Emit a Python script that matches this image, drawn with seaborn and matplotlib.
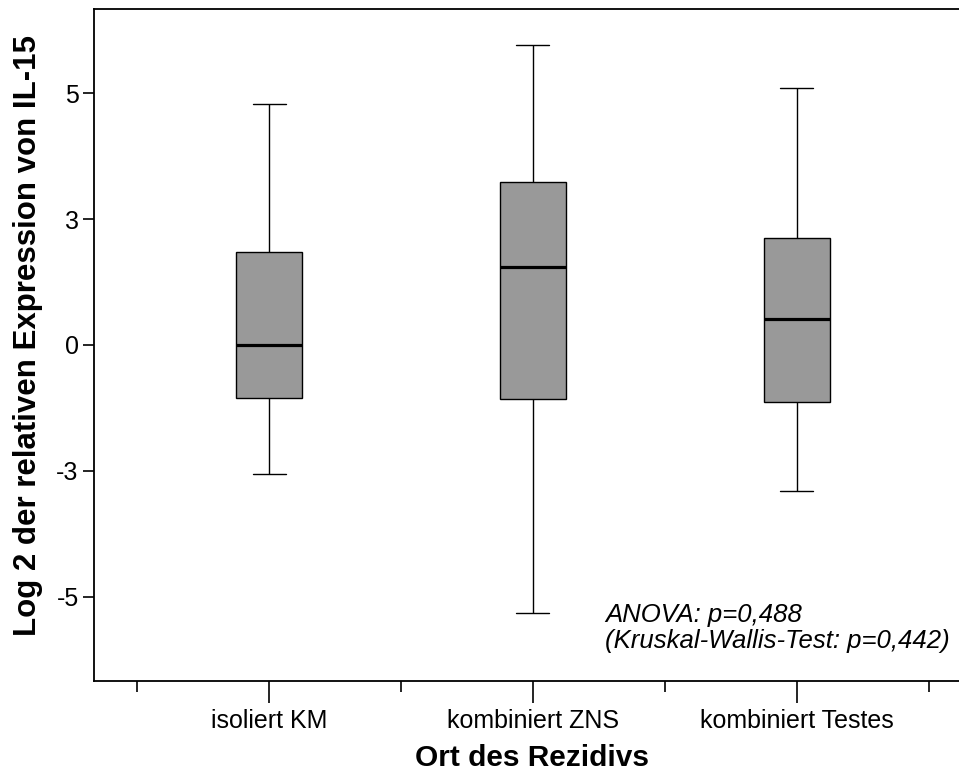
import matplotlib
matplotlib.use("Agg")
import matplotlib.pyplot as plt
import seaborn as sns
import pandas as pd

categories = ["isoliert KM", "kombiniert ZNS", "kombiniert Testes"]
# five-number summaries: min, Q1, median, Q3, max
whisker_low = [-2.56, -5.32, -2.90]
q1 = [-1.05, -1.07, -1.13]
median = [0.0, 1.55, 0.52]
q3 = [1.85, 3.23, 2.12]
whisker_high = [4.78, 5.95, 5.10]

ytick_vals = [-5, -2.5, 0, 2.5, 5]
ytick_labels = ["-5", "-3", "0", "3", "5"]

rows = []
for i, c in enumerate(categories):
    for v in (whisker_low[i], q1[i], median[i], q3[i], whisker_high[i]):
        rows.append({"Ort": c, "val": v})
df = pd.DataFrame(rows)

sns.set_style("ticks")
plt.rcParams["font.family"] = ["Liberation Sans", "DejaVu Sans"]
plt.rcParams["text.color"] = "black"
plt.rcParams["axes.labelcolor"] = "black"
plt.rcParams["xtick.color"] = "black"
plt.rcParams["ytick.color"] = "black"

fig = plt.figure(figsize=(9.59, 7.73), dpi=100)
ax = fig.add_axes([94/959, 92/773, 1 - 94/959, (681-9)/773])

sns.boxplot(data=df, x="Ort", y="val", order=categories, whis=(0, 100),
            width=0.25, color="#999999", saturation=1, linecolor="black",
            linewidth=1.0, ax=ax,
            medianprops=dict(color="black", linewidth=2.3),
            boxprops=dict(edgecolor="black"))

ax.set_xlim(-0.663, 2.614)
ax.set_ylim(-6.67, 6.67)
ax.set_yticks(ytick_vals)
ax.set_yticklabels(ytick_labels, fontsize=18)
ax.set_xticks(range(len(categories)))
ax.set_xticklabels(categories, fontsize=18)
ax.set_xticks([-0.5, 0.5, 1.5, 2.5], minor=True)
ax.tick_params(axis="x", which="major", length=16, width=1.2, color="black", pad=4)
ax.tick_params(axis="x", which="minor", length=8, width=1.2, color="black")
ax.tick_params(axis="y", length=8, width=1.2, color="black", pad=3)
for s in ["left", "bottom", "top"]:
    ax.spines[s].set_visible(True)
    ax.spines[s].set_linewidth(1.3)
    ax.spines[s].set_color("black")
ax.spines["right"].set_visible(False)

ax.set_xlabel("Ort des Rezidivs", fontsize=21.5, fontweight="bold")
ax.set_ylabel("Log 2 der relativen Expression von IL-15", fontsize=22.5,
              fontweight="bold")
ax.xaxis.set_label_coords((532 - 94) / (959 - 94), -(758 - 681) / 672)
ax.yaxis.set_label_coords(-(94 - 28) / (959 - 94), (681 - 336) / 672)
ax.xaxis.label.set_va("center")
ax.yaxis.label.set_va("center")

ax.text(605/959, 1 - 603/773, "ANOVA: p=0,488\n(Kruskal-Wallis-Test: p=0,442)",
        transform=fig.transFigure, fontsize=18.5, style="italic",
        va="top", ha="left", linespacing=1.08)

fig.savefig("out.png", dpi=100)
